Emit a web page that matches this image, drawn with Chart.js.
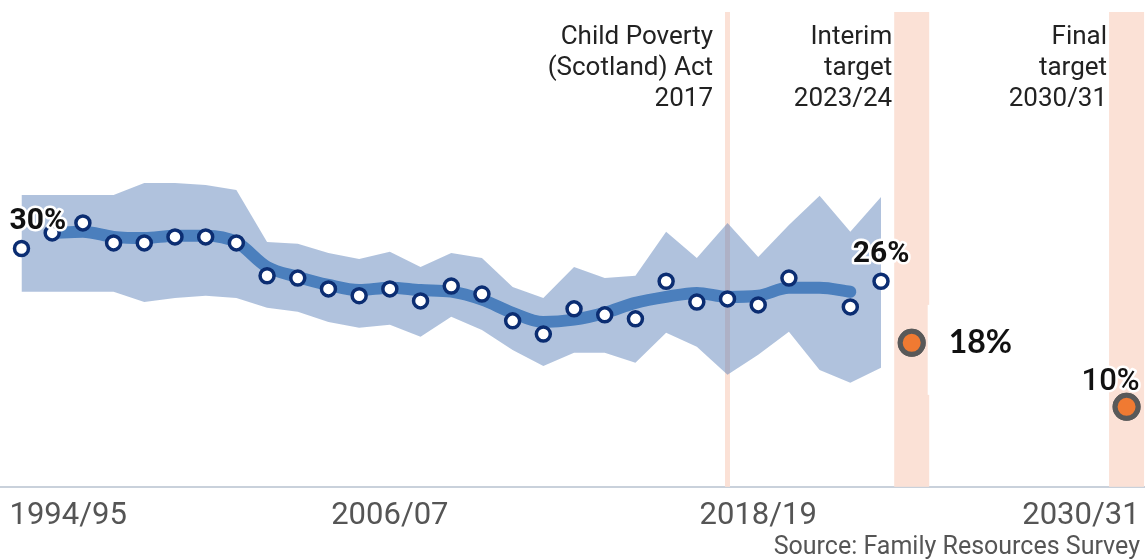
<!DOCTYPE html>
<html>
<head>
<meta charset="utf-8">
<script src="https://cdn.jsdelivr.net/npm/chart.js@4.4.0/dist/chart.umd.min.js"></script>
<style>
  html, body { margin: 0; padding: 0; background: #fff; }
  #wrap { width: 1145px; height: 560px; position: relative; }
</style>
</head>
<body>
<div id="wrap"><canvas id="povertyChart"></canvas></div>
<script>
// Relative child poverty, Scotland (after housing costs)
const years = ['1994/95', '1995/96', '1996/97', '1997/98', '1998/99', '1999/00', '2000/01', '2001/02',
    '2002/03', '2003/04', '2004/05', '2005/06', '2006/07', '2007/08', '2008/09', '2009/10', '2010/11',
    '2011/12', '2012/13', '2013/14', '2014/15', '2015/16', '2016/17', '2017/18', '2018/19', '2019/20',
    '2020/21', '2021/22', '2022/23'];
const povertyRate = [29.8, 31.75, 33, 30.5, 30.5, 31.25, 31.25, 30.5, 26.4, 26.1, 24.75, 23.9, 24.75,
    23.25, 25.1, 24.1, 20.75, 19.1, 22.25, 21.5, 21, 25.7, 23.1, 23.5, 22.75, 26.1, null, 22.5, 25.7];
const trendRate = [null, 31.75, 31.9, 31.25, 31.1, 31.4, 31.4, 30.6, 27.5, 26.25, 25.25, 24.6, 24.9,
    24.6, 24.4, 23.4, 21.75, 20.6, 20.9, 21.75, 23, 23.75, 24.25, 23.75, 23.9, 24.9, 24.9, 24.4, null];
const upperBound = [36.5, 36.5, 36.5, 36.5, 38, 38, 37.75, 37.1, 30.6, 30.4, 29.25, 28.5, 29.4, 27.5,
    29.25, 28.6, 25, 23.6, 27.5, 26.1, 26.4, 31.9, 28.6, 33, 28.75, 32.75, 36.4, 31.9, 36.25];
const lowerBound = [24.4, 24.4, 24.4, 24.4, 23.1, 23.6, 23.9, 23.6, 22.4, 21.9, 20.6, 19.9, 20.25, 18.75,
    21.25, 19.6, 17.1, 15.1, 16.75, 16.75, 15.5, 19.25, 17.5, 14, 16.5, 19.4, 14.6, 13, 14.9];
const targetYears = ['2023/24', '2030/31'];
const targetRate = [18, 10];
const tickLabels = ['1994/95', '2006/07', '2018/19', '2030/31'];

// markers at the top of the chart
const markers = [
    { year: '2017/18', width: 5, gap: 12, lines: ['Child Poverty', '(Scotland) Act', '2017'] },
    { year: '2023/24', width: 35, gap: 2, lines: ['Interim', 'target', '2023/24'] },
    { year: '2030/31', width: 35, gap: 2, lines: ['Final', 'target', '2030/31'] }
];

const yearNum = label => parseInt(label.slice(0, 4), 10);
const toPoints = (labels, values) => labels.map((l, i) => ({ x: yearNum(l), y: values[i] }));

const markerPlugin = {
    id: 'markers',
    afterUpdate(chart) {
        // nudge the outer tick labels a little past the first/last ticks
        const items = chart.scales.x.getLabelItems();
        if (items.length) {
            items[0].options.translation[0] -= 12;
            items[items.length - 1].options.translation[0] += 13;
        }
    },
    beforeDatasetsDraw(chart) {
        const { ctx, scales: { x, y } } = chart;
        const bottom = y.getPixelForValue(0);
        ctx.save();
        ctx.fillStyle = '#fbe1d6';
        markers.forEach(m => {
            const px = x.getPixelForValue(yearNum(m.year));
            ctx.fillRect(px - m.width / 2, 12, m.width, bottom - 12);
        });
        ctx.font = '26px Roboto';
        ctx.fillStyle = '#222';
        ctx.textAlign = 'right';
        ctx.textBaseline = 'middle';
        markers.forEach(m => {
            const px = x.getPixelForValue(yearNum(m.year));
            m.lines.forEach((line, i) => {
                ctx.fillText(line, px - m.width / 2 - m.gap, 37 + i * 31);
            });
        });
        ctx.restore();
    },
    afterDatasetsDraw(chart) {
        const { ctx, scales: { x, y } } = chart;
        const lastIdx = povertyRate.length - 1;
        const labels = [
            { xv: yearNum(years[0]), v: povertyRate[0], dx: -12, dy: -27, align: 'left', font: 'bold 30px Roboto' },
            { xv: yearNum(years[lastIdx]), v: povertyRate[lastIdx], dx: 0, dy: -27, align: 'center', font: 'bold 30px Roboto' },
            { xv: yearNum(targetYears[0]), v: targetRate[0], dx: 37, dy: 0, align: 'left', font: 'bold 32px Lato', box: true },
            { xv: yearNum(targetYears[1]), v: targetRate[1], dx: 13, dy: -25, align: 'right', font: '500 31px Roboto' }
        ];
        ctx.save();
        ctx.textBaseline = 'middle';
        labels.forEach(l => {
            const px = x.getPixelForValue(l.xv);
            const py = y.getPixelForValue(l.v);
            const text = Math.round(l.v) + '%';
            if (l.box) {
                ctx.fillStyle = '#fff';
                ctx.fillRect(px + 16, py - 38, 90, 90);
            }
            ctx.font = l.font;
            ctx.textAlign = l.align;
            ctx.lineJoin = 'round';
            ctx.lineWidth = 5;
            ctx.strokeStyle = '#fff';
            ctx.strokeText(text, px + l.dx, py + l.dy);
            ctx.fillStyle = '#111';
            ctx.fillText(text, px + l.dx, py + l.dy);
        });
        // redraw target dots above the label box
        chart.getDatasetMeta(1).controller.draw();

        ctx.font = '25px Roboto';
        ctx.fillStyle = '#555';
        ctx.textAlign = 'right';
        ctx.textBaseline = 'middle';
        ctx.fillText('Source: Family Resources Survey', 1140, 548);
        ctx.restore();
    }
};

const ctx = document.getElementById('povertyChart');

new Chart(ctx.getContext('2d'), {
    type: 'line',
    data: {
        datasets: [
            {
                label: 'Relative poverty',
                data: toPoints(years, povertyRate),
                showLine: false,
                pointRadius: 7,
                pointBorderWidth: 3.5,
                pointBackgroundColor: '#fff',
                pointBorderColor: '#0b2d72',
                order: 0
            },
            {
                label: 'Targets',
                data: toPoints(targetYears, targetRate),
                showLine: false,
                pointRadius: 11.5,
                pointBorderWidth: 5,
                pointBackgroundColor: '#f07a32',
                pointBorderColor: '#595959',
                order: 0
            },
            {
                label: 'Trend',
                data: toPoints(years, trendRate),
                borderColor: '#4b7fbd',
                borderWidth: 12,
                borderCapStyle: 'round',
                borderJoinStyle: 'round',
                tension: 0.4,
                cubicInterpolationMode: 'monotone',
                pointRadius: 0,
                fill: false,
                order: 1
            },
            {
                label: 'Upper',
                data: toPoints(years, upperBound),
                borderWidth: 0,
                pointRadius: 0,
                tension: 0,
                fill: '+1',
                backgroundColor: 'rgba(80, 120, 180, 0.45)',
                order: 3
            },
            {
                label: 'Lower',
                data: toPoints(years, lowerBound),
                borderWidth: 0,
                pointRadius: 0,
                tension: 0,
                fill: false,
                order: 3
            }
        ]
    },
    options: {
        responsive: true,
        maintainAspectRatio: false,
        animation: false,
        layout: {
            autoPadding: false,
            padding: { top: 7, bottom: 14, left: 0, right: 0 }
        },
        scales: {
            x: {
                type: 'linear',
                min: 1993.3,
                max: 2030.6,
                afterBuildTicks(scale) {
                    scale.ticks = tickLabels.map(l => ({ value: yearNum(l) }));
                },
                afterFit(scale) {
                    scale.paddingLeft = 0;
                    scale.paddingRight = 0;
                },
                ticks: {
                    autoSkip: false,
                    maxRotation: 0,
                    align: 'inner',
                    padding: 11,
                    color: '#555',
                    font: { family: 'Roboto', size: 31 },
                    callback: value => tickLabels.find(l => yearNum(l) === value) || ''
                },
                grid: { display: false, drawTicks: false },
                border: { display: true, color: '#c9d1db', width: 2 }
            },
            y: {
                display: false,
                min: 0,
                max: 60
            }
        },
        plugins: {
            legend: { display: false },
            tooltip: { enabled: false }
        }
    },
    plugins: [markerPlugin]
});
</script>
</body>
</html>
